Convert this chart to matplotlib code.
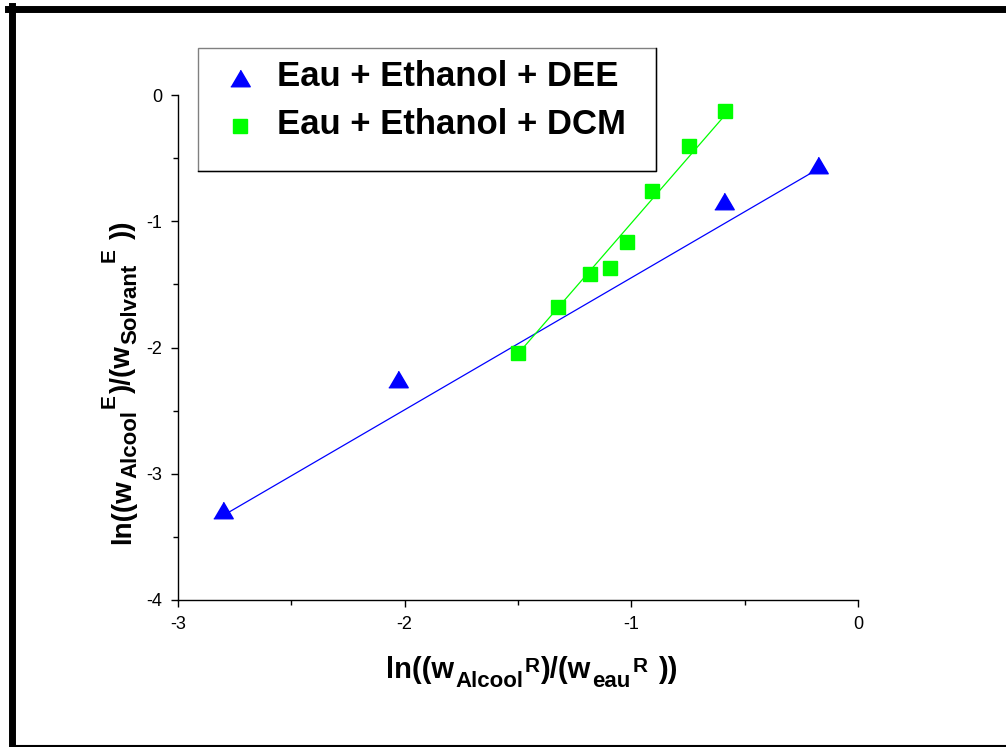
import matplotlib
matplotlib.use("Agg")
import matplotlib.pyplot as plt
import numpy as np
from matplotlib.lines import Line2D
from matplotlib.patches import Rectangle

plt.rcParams["font.family"] = ["Liberation Sans", "DejaVu Sans"]
plt.rcParams["axes.unicode_minus"] = False

# Eau + Ethanol + DEE
x_dee = [-2.800, -2.03, -0.589, -0.176]
y_dee = [-3.287, -2.25, -0.84, -0.558]
# straight line drawn through them
x_fit_dee = [-2.80, -0.18]
y_fit_dee = [-3.33, -0.59]

# Eau + Ethanol + DCM
x_dcm = [-1.500, -1.324, -1.183, -1.094, -1.019, -0.909, -0.746, -0.587]
y_dcm = [-2.044, -1.68, -1.418, -1.370, -1.166, -0.760, -0.404, -0.127]
x_fit_dcm = [-1.50, -0.587]
y_fit_dcm = [-2.05, -0.16]

labels = ["Eau + Ethanol + DEE", "Eau + Ethanol + DCM"]

W, H = 1006, 747
fig = plt.figure(figsize=(W / 100, H / 100), dpi=100)
ax = fig.add_axes([178 / W, 1 - 600 / H, 680 / W, 505 / H])

tri = [(-1, -0.85), (1, -0.85), (0, 0.85)]

ax.plot(x_fit_dee, y_fit_dee, color="#0000ff", lw=0.9)
ax.plot(x_fit_dcm, y_fit_dcm, color="#00ff00", lw=0.9)
h1, = ax.plot(x_dee, y_dee, marker=tri, color="#0000ff", ms=14, mec="#0000ff",
              linestyle="none", clip_on=False)
h2, = ax.plot(x_dcm, y_dcm, "s", color="#00ff00", ms=10, mec="#00ff00",
              linestyle="none", clip_on=False)

ax.set_xlim(-3, 0)
ax.set_ylim(-4, 0)
ax.set_xticks([-3, -2, -1, 0])
ax.set_yticks([-4, -3, -2, -1, 0])
ax.set_xticks(np.arange(-2.5, 0, 1), minor=True)
ax.set_yticks(np.arange(-3.5, 0, 1), minor=True)
ax.spines["top"].set_visible(False)
ax.spines["right"].set_visible(False)
ax.spines["left"].set_linewidth(1.0)
ax.spines["bottom"].set_linewidth(1.0)
ax.tick_params(which="major", direction="out", length=5, width=1.0,
               labelsize=13, pad=6.5)
ax.tick_params(which="minor", direction="out", length=3.5, width=1.0)

renderer = fig.canvas.get_renderer()


def rich_label(pieces, center, base, vertical=False):
    # pieces: (text, fontsize, baseline shift px, gap before px)
    texts, sizes = [], []
    for txt, size, shift, gap in pieces:
        t = fig.text(0, 0, txt, fontsize=size, fontweight="bold",
                     rotation=90 if vertical else 0, rotation_mode="anchor",
                     ha="left", va="baseline")
        bb = t.get_window_extent(renderer)
        texts.append(t)
        sizes.append(bb.height if vertical else bb.width)
    total = sum(sizes) + sum(p[3] for p in pieces)
    pos = center - total / 2
    for t, w, (txt, size, shift, gap) in zip(texts, sizes, pieces):
        pos += gap
        if vertical:
            t.set_position(((base - shift) / W, pos / H))
        else:
            t.set_position((pos / W, (base + shift) / H))
        pos += w


rich_label([("ln((w", 21, 0, 0), ("Alcool", 16, -9, 1), ("R", 15, 6, 1),
            (")/(w", 21, 0, 1), ("eau", 16, -9, 1),
            ("R", 15, 6, 3), ("))", 21, 0, 10)],
           532, H - 678)
rich_label([("ln((w", 20, 0, 0), ("Alcool", 16, -6, 1), ("E", 15, 15, 2),
            (")/(w", 20, 0, 1), ("Solvant", 16, -6, 1),
            ("E", 15, 15, 2), ("))", 20, 0, 9)],
           365, 130, vertical=True)

# legend box
fig.add_artist(Rectangle((198 / W, 1 - 171 / H), 458 / W, 123 / H,
                         transform=fig.transFigure, fc="white",
                         ec="#808080", lw=1.0, zorder=5))
fig.add_artist(Line2D([656 / W, 656 / W, 198 / W], [1 - 48 / H, 1 - 171 / H, 1 - 171 / H],
                      transform=fig.transFigure, color="black", lw=1.0, zorder=6))
for i, (h, lab) in enumerate(zip([h1, h2], labels)):
    yc = [78, 126][i]
    fig.add_artist(Line2D([240 / W], [1 - yc / H], transform=fig.transFigure,
                          linestyle="none", marker=h.get_marker(),
                          color=h.get_color(), ms=h.get_markersize(), zorder=7))
    fig.text(277 / W, 1 - (yc - 1) / H, lab, fontsize=25, fontweight="bold",
             ha="left", va="center", zorder=7)

# outer frame
fig.add_artist(Line2D([8 / W, 1.0], [1 - 8.5 / H, 1 - 8.5 / H],
                      transform=fig.transFigure, color="black", lw=5))
fig.add_artist(Line2D([11.5 / W, 11.5 / W], [1 - 6 / H, 1 - 746 / H],
                      transform=fig.transFigure, color="black", lw=5))
fig.add_artist(Line2D([11 / W, 1.0], [1 - 745.5 / H, 1 - 745.5 / H],
                      transform=fig.transFigure, color="black", lw=1.5))

fig.savefig("out.png", dpi=100)
